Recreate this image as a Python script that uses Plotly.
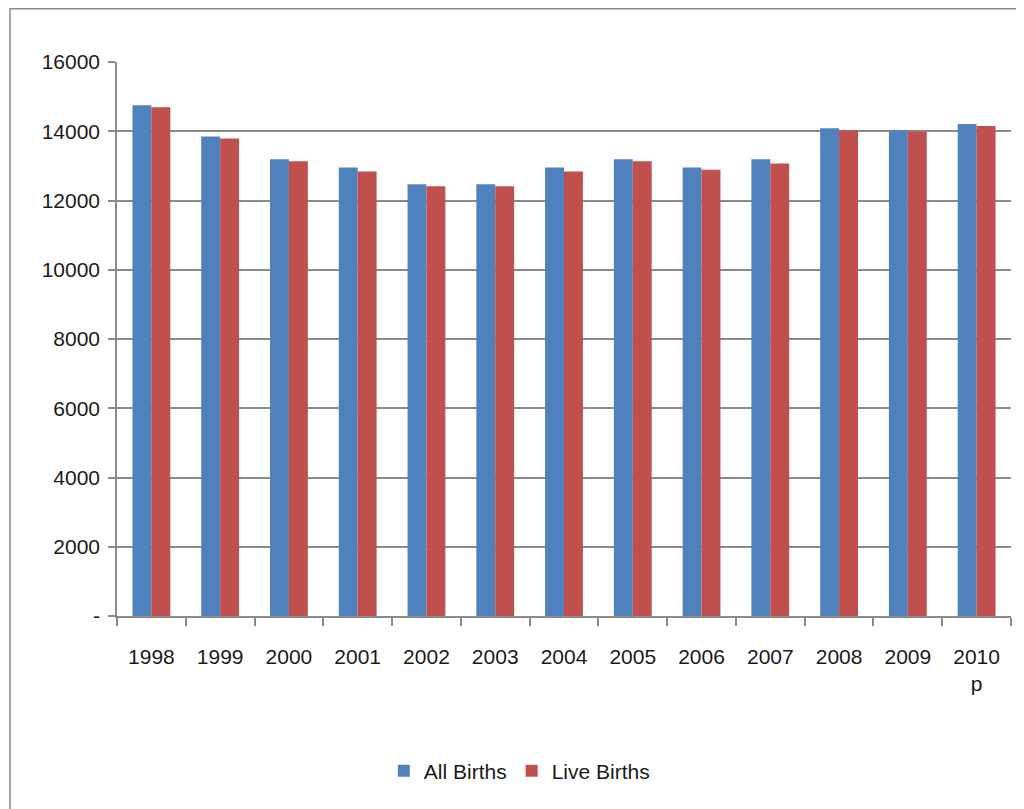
import plotly.graph_objects as go

years = ["1998", "1999", "2000", "2001", "2002", "2003", "2004",
         "2005", "2006", "2007", "2008", "2009", "2010<br>p"]
all_births = [14750, 13850, 13190, 12950, 12470, 12470, 12950,
              13190, 12950, 13190, 14090, 14030, 14210]
live_births = [14690, 13790, 13130, 12840, 12410, 12410, 12840,
               13130, 12890, 13070, 14030, 13990, 14150]
y_tickvals = [0, 2000, 4000, 6000, 8000, 10000, 12000, 14000, 16000]
y_ticktext = ["-", "2000", "4000", "6000", "8000", "10000", "12000", "14000", "16000"]

FONT = "Liberation Sans"
GRID = "#8a8a8a"
TXT = "#1a1a1a"
FS = 21

fig = go.Figure()
fig.add_trace(go.Bar(name="All Births", x=years, y=all_births,
                     marker=dict(color="#4F81BD", line=dict(width=0))))
fig.add_trace(go.Bar(name="Live Births", x=years, y=live_births,
                     marker=dict(color="#C0504D", line=dict(width=0))))

fig.update_layout(
    width=1016, height=801,
    margin=dict(l=109, r=13, t=54, b=193),
    paper_bgcolor="white", plot_bgcolor="white",
    barmode="group", bargap=0.45, bargroupgap=0,
    font=dict(family=FONT, size=FS, color=TXT),
    showlegend=True,
    legend=dict(orientation="h", x=0.45, xanchor="center",
                y=-0.28, yanchor="middle",
                font=dict(family=FONT, size=FS, color=TXT),
                itemwidth=30),
    xaxis=dict(type="category", showgrid=False,
               showline=True, linecolor=GRID, linewidth=1.5,
               ticks="outside", tickson="boundaries", ticklen=8,
               tickcolor=GRID, tickwidth=1.5,
               ticklabelstandoff=21,
               tickfont=dict(family=FONT, size=FS, color=TXT)),
    yaxis=dict(range=[0, 16000], tickvals=y_tickvals, ticktext=y_ticktext,
               showgrid=True, gridcolor=GRID, gridwidth=1.5,
               showline=True, linecolor=GRID, linewidth=1.5,
               ticks="outside", ticklen=7, tickcolor=GRID, tickwidth=1.5,
               ticklabelstandoff=4, zeroline=False,
               tickfont=dict(family=FONT, size=FS, color=TXT)),
    shapes=[dict(type="rect", xref="paper", yref="paper",
                 x0=-0.1197, x1=1.2, y0=-0.5, y1=1.0961,
                 line=dict(color="#8a8a8a", width=1.5), layer="below")],
)

fig.write_html("out.html")
